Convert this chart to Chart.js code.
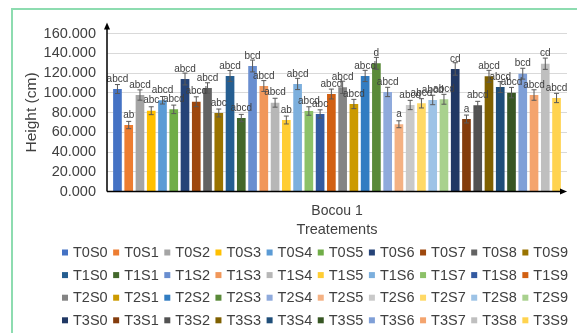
<!DOCTYPE html>
<html>
<head>
<meta charset="utf-8">
<script src="https://cdn.jsdelivr.net/npm/chart.js@4.4.1/dist/chart.umd.min.js"></script>
<style>
  html, body { margin: 0; padding: 0; background: #ffffff; }
  #wrap { position: relative; width: 577px; height: 333px; overflow: hidden; }
  #frame { position: absolute; left: 11px; top: 8px; width: 600px; height: 400px;
           border: 2px solid #8ddcb0; box-sizing: border-box; pointer-events: none; }
  canvas { position: absolute; left: 0; top: 0; }
</style>
</head>
<body>
<div id="wrap">
  <canvas id="chart" width="577" height="333"></canvas>
  <div id="frame"></div>
</div>
<script>
// Site / category on the x axis
const categories = ['Bocou 1'];

// Treatment combinations (one bar each)
const treatments = [
  'T0S0','T0S1','T0S2','T0S3','T0S4','T0S5','T0S6','T0S7','T0S8','T0S9',
  'T1S0','T1S1','T1S2','T1S3','T1S4','T1S5','T1S6','T1S7','T1S8','T1S9',
  'T2S0','T2S1','T2S2','T2S3','T2S4','T2S5','T2S6','T2S7','T2S8','T2S9',
  'T3S0','T3S1','T3S2','T3S3','T3S4','T3S5','T3S6','T3S7','T3S8','T3S9'
];

// Mean plant height (cm)
const heights = [
  103.8, 67.3, 97.7, 81.8, 92.4, 83.2, 113.9, 90.9, 104.8, 79.5,
  117.0, 74.4, 127.1, 106.8, 89.9, 72.4, 108.9, 81.5, 78.5, 98.7,
  105.5, 88.6, 117.0, 129.8, 100.8, 68.1, 87.6, 89.3, 92.7, 93.4,
  124.1, 73.4, 87.3, 116.7, 105.8, 100.1, 119.3, 97.7, 129.4, 94.7
];

// Standard error of each mean (cm)
const errors = [
  4.5, 3.7, 5.2, 4.0, 3.8, 4.3, 6.0, 5.0, 5.3, 4.0,
  5.5, 3.7, 6.0, 5.5, 4.5, 4.0, 5.7, 4.3, 4.2, 5.0,
  6.2, 4.7, 5.7, 6.0, 4.7, 3.5, 4.7, 4.7, 4.8, 5.0,
  6.3, 4.0, 4.0, 6.0, 5.5, 5.3, 5.5, 5.3, 5.7, 4.7
];

// Mean-separation letters
const letters = [
  'abcd','ab','abcd','abc','abcd','abcd','abcd','abcd','abcd','abc',
  'abcd','abcd','bcd','abcd','abcd','ab','abcd','abcd','abc','abcd',
  'abcd','abcd','abcd','d','abcd','a','abcd','abcd','abcd','abcd',
  'cd','a','abcd','abcd','abcd','abcd','bcd','abcd','cd','abcd'
];

// Y axis ticks
const yTicks = [0, 20, 40, 60, 80, 100, 120, 140, 160];

const palette = [
  '#4472C4','#ED7D31','#A5A5A5','#FFC000','#5B9BD5','#70AD47','#264478','#9E480E','#636363','#997300',
  '#255E91','#43682B','#698ED0','#F1975A','#B7B7B7','#FFCD33','#7CAFDD','#8CC168','#335AA1','#D26012',
  '#848484','#CC9A00','#327DC2','#5A8A39','#8FAADC','#F4B183','#C9C9C9','#FFD966','#9DC3E6','#A9D18E',
  '#203864','#843C0C','#525252','#7F6000','#1F4E79','#375623','#7F9FD7','#F4A46E','#BFBFBF','#FFD34F'
];

const FONT = '"Liberation Sans", Arial, sans-serif';
const TEXT = '#404040';

const datasets = treatments.map((name, i) => ({
  label: name,
  data: [heights[i]],
  backgroundColor: palette[i],
  borderWidth: 0
}));

// Error bars and significance letters above each bar
const barAnnotations = {
  id: 'barAnnotations',
  afterDatasetsDraw(chart) {
    const ctx = chart.ctx;
    const y = chart.scales.y;
    ctx.save();
    chart.data.datasets.forEach((ds, i) => {
      const bar = chart.getDatasetMeta(i).data[0];
      const v = ds.data[0];
      const hi = y.getPixelForValue(v + errors[i]);
      const lo = y.getPixelForValue(v - errors[i]);
      ctx.strokeStyle = '#595959';
      ctx.lineWidth = 1;
      ctx.beginPath();
      ctx.moveTo(bar.x, hi); ctx.lineTo(bar.x, lo);
      ctx.moveTo(bar.x - 2.5, hi); ctx.lineTo(bar.x + 2.5, hi);
      ctx.moveTo(bar.x - 2.5, lo); ctx.lineTo(bar.x + 2.5, lo);
      ctx.stroke();
    });
    ctx.font = '10px ' + FONT;
    ctx.fillStyle = TEXT;
    ctx.textAlign = 'center';
    ctx.textBaseline = 'middle';
    chart.data.datasets.forEach((ds, i) => {
      const bar = chart.getDatasetMeta(i).data[0];
      ctx.fillText(letters[i], bar.x, bar.y - 10);
    });
    ctx.restore();
  }
};

// Axis lines with arrowheads
const axisArrows = {
  id: 'axisArrows',
  afterDraw(chart) {
    const {left, right, top, bottom} = chart.chartArea;
    const ctx = chart.ctx;
    ctx.save();
    ctx.strokeStyle = '#000';
    ctx.fillStyle = '#000';
    ctx.lineWidth = 1.5;
    ctx.beginPath();
    ctx.moveTo(left, bottom); ctx.lineTo(left, top - 6);
    ctx.moveTo(left, bottom); ctx.lineTo(right - 6, bottom);
    ctx.stroke();
    // up arrow
    ctx.beginPath();
    ctx.moveTo(left, top - 11); ctx.lineTo(left - 3, top - 4); ctx.lineTo(left + 3, top - 4); ctx.closePath();
    ctx.fill();
    // right arrow
    ctx.beginPath();
    ctx.moveTo(right, bottom); ctx.lineTo(right - 7, bottom - 3); ctx.lineTo(right - 7, bottom + 3); ctx.closePath();
    ctx.fill();
    ctx.restore();
  }
};

// Legend laid out as a 10-column grid under the plot
const gridLegend = {
  id: 'gridLegend',
  afterDraw(chart) {
    const ctx = chart.ctx;
    ctx.save();
    ctx.font = '14.5px ' + FONT;
    ctx.textBaseline = 'middle';
    ctx.textAlign = 'left';
    chart.data.datasets.forEach((ds, i) => {
      const col = i % 10, row = Math.floor(i / 10);
      const x = 62 + col * 51.15;
      const yc = 252.5 + row * 22.6;
      ctx.fillStyle = ds.backgroundColor;
      ctx.fillRect(x, yc - 3, 6, 6);
      ctx.fillStyle = TEXT;
      ctx.fillText(ds.label, x + 11, yc + 0.5);
    });
    ctx.restore();
  }
};

new Chart(document.getElementById('chart'), {
  type: 'bar',
  data: { labels: categories, datasets },
  options: {
    responsive: false,
    animation: false,
    devicePixelRatio: 1,
    categoryPercentage: 0.979,
    barPercentage: 0.77,
    layout: { padding: { top: 33.5, right: 10, bottom: 94.5, left: 0 } },
    plugins: {
      legend: { display: false },
      tooltip: { enabled: false }
    },
    scales: {
      x: {
        grid: { display: false, drawTicks: false },
        border: { display: false },
        ticks: { color: TEXT, font: { family: FONT, size: 14 }, padding: 11 },
        title: { display: true, text: 'Treatements', color: TEXT,
                 font: { family: FONT, size: 14.5 }, padding: { top: 0, bottom: 0 } },
        afterFit(scale) { scale.height = 47; }
      },
      y: {
        min: 0,
        max: 160,
        afterBuildTicks(scale) { scale.ticks = yTicks.map(v => ({ value: v })); },
        grid: { color: '#d9d9d9', lineWidth: 1, drawTicks: false },
        border: { display: false },
        ticks: { color: TEXT, font: { family: FONT, size: 14.5 }, padding: 11,
                 autoSkip: false,
                 callback: v => Number(v).toFixed(3) },
        title: { display: true, text: 'Height (cm)', color: TEXT,
                 font: { family: FONT, size: 15.5 }, padding: { top: 22.7, bottom: 0 } },
        afterFit(scale) { scale.width = 107; }
      }
    }
  },
  plugins: [barAnnotations, axisArrows, gridLegend]
});
</script>
</body>
</html>
